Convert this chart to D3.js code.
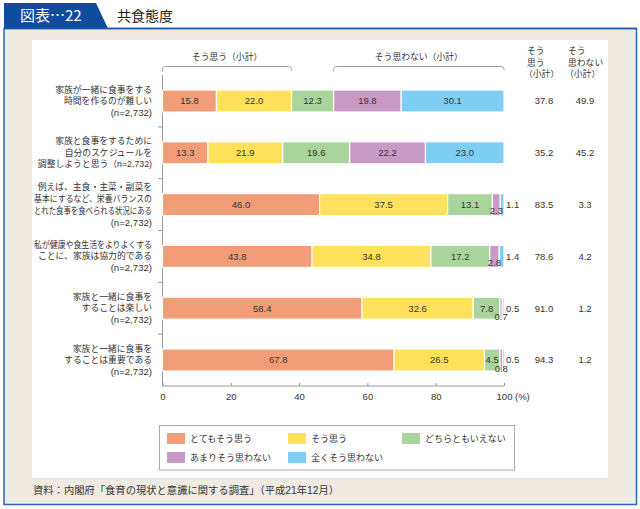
<!DOCTYPE html>
<html><head><meta charset="utf-8">
<script src="https://cdn.jsdelivr.net/npm/d3@7"></script>
<style>
html,body{margin:0;padding:0;background:#fff;}
svg{display:block;font-family:"Liberation Sans","Noto Sans CJK JP",sans-serif;}
</style></head>
<body>
<svg id="chart" width="640" height="509"></svg>
<script>
const categories = [
  ["家族が一緒に食事をする","時間を作るのが難しい","(n=2,732)"],
  ["家族と食事をするために","自分のスケジュールを","調整しようと思う（n=2,732)"],
  ["例えば、主食・主菜・副菜を","基本にするなど、栄養バランスの","とれた食事を食べられる状況にある","(n=2,732)"],
  ["私が健康や食生活をよりよくする","ことに、家族は協力的である","(n=2,732)"],
  ["家族と一緒に食事を","することは楽しい","(n=2,732)"],
  ["家族と一緒に食事を","することは重要である","(n=2,732)"]
];
const seriesNames = ["とてもそう思う","そう思う","どちらともいえない","あまりそう思わない","全くそう思わない"];
const veryAgree    = [15.8, 13.3, 46.0, 43.8, 58.4, 67.8];
const agree        = [22.0, 21.9, 37.5, 34.8, 32.6, 26.5];
const neutral      = [12.3, 19.6, 13.1, 17.2, 7.8, 4.5];
const disagree     = [19.8, 22.2, 2.3, 2.8, 0.7, 0.8];
const strongDis    = [30.1, 23.0, 1.1, 1.4, 0.5, 0.5];
const agreeTotal   = [37.8, 35.2, 83.5, 78.6, 91.0, 94.3];
const disagreeTotal= [49.9, 45.2, 3.3, 4.2, 1.2, 1.2];
const xTicks = [0, 20, 40, 60, 80, 100];
const colors = ["#F29C78","#FFE15C","#A9D49B","#C89AC6","#7FCEF3"];

const series = [veryAgree, agree, neutral, disagree, strongDis];
const svg = d3.select("#chart");
const txt = "#333";

// ---- frame ----
svg.append("rect").attr("x",4).attr("y",28.5).attr("width",632.5).attr("height",476)
  .attr("fill","#EFEBE2").attr("stroke","#2F64B6").attr("stroke-width",1.5);
svg.append("path").attr("d","M4,3 L96,3 L108,28.5 L4,28.5 Z").attr("fill","#0F4C9E");
svg.append("line").attr("x1",4).attr("x2",637).attr("y1",28.5).attr("y2",28.5)
  .attr("stroke","#1E56A8").attr("stroke-width",1.5);
svg.append("text").attr("x",20).attr("y",21).attr("fill","#fff").attr("font-size",15)
  .attr("font-family","'Noto Sans CJK JP',sans-serif").text("図表…22");
svg.append("text").attr("x",117).attr("y",21).attr("fill","#222").attr("font-size",14)
  .attr("font-family","'Noto Sans CJK JP',sans-serif").text("共食態度");
svg.append("rect").attr("x",32).attr("y",40).attr("width",576).attr("height",438).attr("fill","#fff");
svg.append("text").attr("x",33).attr("y",494).attr("fill",txt).attr("font-size",10.3)
  .text("資料：内閣府「食育の現状と意識に関する調査」（平成21年12月）");

// ---- scales ----
const x = d3.scaleLinear().domain([0,100]).range([162.5,504]);
const y = d3.scaleBand().domain(d3.range(categories.length)).range([75,386]).paddingInner(0.575).paddingOuter(0.29);

// axes
const xAxis = d3.axisBottom(x).tickValues(xTicks).tickSize(-3).tickPadding(7);
const gx = svg.append("g").attr("transform","translate(0,386)").call(xAxis);
gx.select(".domain").attr("stroke","#999").attr("d","M162.5,0H504");
gx.selectAll(".tick line").attr("stroke","#999");
gx.selectAll(".tick text").attr("fill",txt).attr("font-size",9.5)
  .attr("font-family","'Liberation Sans','Noto Sans CJK JP',sans-serif");
svg.append("text").attr("x",515).attr("y",400).attr("fill",txt).attr("font-size",9.5)
  .text("(%)");

// y axis line with boundary ticks
const yLine = svg.append("g");
yLine.append("line").attr("x1",162.5).attr("x2",162.5).attr("y1",75).attr("y2",386).attr("stroke","#999");
d3.range(1, categories.length).forEach(i => {
  const yy = y(i) - y.step()*y.paddingInner()/2;
  yLine.append("line").attr("x1",158).attr("x2",162.5).attr("y1",yy).attr("y2",yy).attr("stroke","#999");
});

// bars
const rows = categories.map((c,i) => {
  let acc = 0;
  return series.map((s,k) => { const v = s[i]; const seg = {i,k,v,x0:acc,x1:acc+v}; acc += v; return seg; });
});
const gBars = svg.append("g");
rows.forEach(row => {
  gBars.selectAll(null).data(row).enter().append("rect")
    .attr("x", d => x(d.x0)).attr("width", d => Math.max(0, x(d.x1)-x(d.x0)))
    .attr("y", d => y(d.i)).attr("height", y.bandwidth())
    .attr("fill", d => colors[d.k]).attr("stroke","#fff").attr("stroke-width",1.2);
});
// bar labels
rows.forEach(row => {
  row.forEach(d => {
    const cy = y(d.i) + y.bandwidth()/2;
    let tx = (x(d.x0)+x(d.x1))/2, ty = cy, anchor = "middle";
    if (d.k === 4 && d.v < 5) { tx = 506; anchor = "start"; }
    else if (d.k === 3 && d.v < 5) { ty = cy + (d.v < 1 ? 8.5 : 6); }
    svg.append("text").attr("x",tx).attr("y",ty).attr("dy","0.35em")
      .attr("text-anchor",anchor).attr("fill",txt).attr("font-size",9.5)
      .text(d.v.toFixed(1));
  });
});

// category labels
categories.forEach((lines,i) => {
  const cy = y(i) + y.bandwidth()/2;
  const lh = lines.length > 3 ? 12 : 11.5;
  lines.forEach((ln,j) => {
    const t = svg.append("text").attr("x",152).attr("y", cy + (j - (lines.length-1)/2)*lh)
      .attr("dy","0.35em").attr("text-anchor","end").attr("fill",txt)
      .attr("font-size", ln.startsWith("(n=") ? 9.6 : 8.8)
      .text(ln);
    const w = t.node().getComputedTextLength();
    if (w > 118) t.attr("textLength",118).attr("lengthAdjust","spacingAndGlyphs");
  });
});

// brackets (based on first row subtotals)
function bracket(x0, x1, label) {
  const yb = 66.5, yd = 71.5, r = 3;
  svg.append("path").attr("fill","none").attr("stroke","#999").attr("stroke-width",0.9)
    .attr("d", `M${x0},${yd} V${yb+r} Q${x0},${yb} ${x0+r},${yb} H${x1-r} Q${x1},${yb} ${x1},${yb+r} V${yd-1}`);
  svg.append("text").attr("x",(x0+x1)/2).attr("y",57).attr("dy","0.35em").attr("text-anchor","middle")
    .attr("fill",txt).attr("font-size",8.8).text(label);
}
bracket(x(0), x(agreeTotal[0]), "そう思う（小計）");
bracket(x(100-disagreeTotal[0]), x(100), "そう思わない（小計）");

// right columns
const colX = [544, 585];
const hdrs = [["そう","思う","（小計）"],["そう","思わない","（小計）"]];
hdrs.forEach((h,c) => {
  h.forEach((ln,j) => {
    svg.append("text").attr("x", colX[c]-17 + (j===2 ? -3 : 0)).attr("y", 51 + j*11.5).attr("dy","0.35em")
      .attr("fill",txt).attr("font-size",8.8).text(ln);
  });
});
[agreeTotal, disagreeTotal].forEach((arr,c) => {
  arr.forEach((v,i) => {
    svg.append("text").attr("x",colX[c]).attr("y", y(i)+y.bandwidth()/2).attr("dy","0.35em")
      .attr("text-anchor","middle").attr("fill",txt).attr("font-size",9.5)
      .text(v.toFixed(1));
  });
});

// legend
svg.append("rect").attr("x",159.5).attr("y",425.5).attr("width",355).attr("height",44.5)
  .attr("fill","#fff").attr("stroke","#aaa").attr("stroke-width",1);
const legPos = [[167,433],[288,433],[402,433],[167,452],[288,452]];
seriesNames.forEach((n,k) => {
  const [lx,ly] = legPos[k];
  svg.append("rect").attr("x",lx).attr("y",ly).attr("width",18).attr("height",11).attr("fill",colors[k]);
  svg.append("text").attr("x",lx+23).attr("y",ly+5.5).attr("dy","0.35em").attr("fill",txt)
    .attr("font-size",9).text(n);
});
</script>
</body></html>
